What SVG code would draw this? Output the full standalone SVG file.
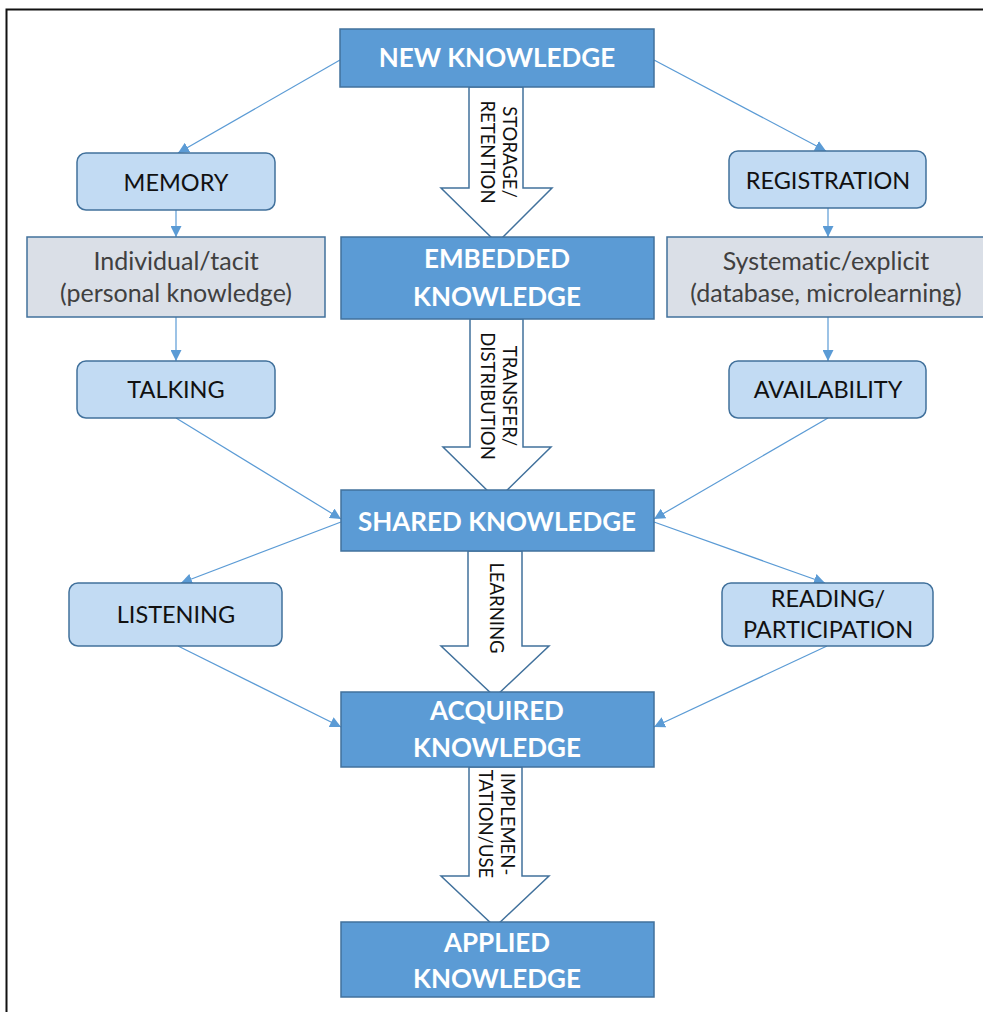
<svg xmlns="http://www.w3.org/2000/svg" width="983" height="1012" viewBox="0 0 983 1012">
  <style>
    text { font-variant-ligatures: none; }
    .main { fill: #5B9BD5; stroke: #41719C; stroke-width: 1.5; }
    .main-t { font-family: Lato, "Open Sans", sans-serif; font-weight: bold; font-size: 26px; fill: #ffffff; text-anchor: middle; }
    .soft { fill: #C2DBF3; stroke: #41719C; stroke-width: 1.5; }
    .soft-t { font-family: Lato, "Open Sans", sans-serif; font-size: 23.5px; fill: #111111; text-anchor: middle; }
    .grey { fill: #DADFE7; stroke: #41719C; stroke-width: 1.5; }
    .grey-t { font-family: Lato, "Open Sans", sans-serif; font-size: 25px; fill: #404040; text-anchor: middle; }
    .block { fill: #ffffff; stroke: #41719C; stroke-width: 1.5; stroke-linejoin: miter; }
    .block-t { font-family: Lato, "Open Sans", sans-serif; font-size: 18.5px; fill: #111111; text-anchor: middle; }
    .link { stroke: #5B9BD5; stroke-width: 1.2; fill: none; marker-end: url(#tip); }
    .frame { stroke: #111111; stroke-width: 2; fill: none; }
  </style>
  <defs>
    <marker id="tip" viewBox="0 0 10 10" refX="10" refY="5" markerWidth="11" markerHeight="11" markerUnits="userSpaceOnUse" orient="auto">
      <path d="M0,0 L10,5 L0,10 z" fill="#5B9BD5"/>
    </marker>
  </defs>

  <rect width="983" height="1012" fill="#ffffff"/>
  <path class="frame" d="M6.5,1012 V9.5 H983"/>

  <!-- thin connectors -->
  <g id="connectors">
    <line class="link" x1="340" y1="60" x2="178" y2="153"/>
    <line class="link" x1="654" y1="60" x2="826" y2="151"/>
    <line class="link" x1="176" y1="210" x2="176" y2="237"/>
    <line class="link" x1="176" y1="317" x2="176" y2="361"/>
    <line class="link" x1="828" y1="208" x2="828" y2="237"/>
    <line class="link" x1="828" y1="317" x2="828" y2="361"/>
    <line class="link" x1="176" y1="418" x2="341" y2="519"/>
    <line class="link" x1="828" y1="418" x2="654" y2="519"/>
    <line class="link" x1="341" y1="522" x2="181" y2="583"/>
    <line class="link" x1="654" y1="522" x2="825" y2="583"/>
    <line class="link" x1="178" y1="646" x2="341" y2="727"/>
    <line class="link" x1="827" y1="646" x2="654" y2="727"/>
  </g>

  <!-- block arrows between the central stages -->
  <g id="flow-arrows">
    <g id="arrow-storage">
      <path class="block" d="M469,87 H523 V188 H552 L497,243 L441,188 H469 Z"/>
      <text class="block-t" transform="translate(497,152) rotate(90)"><tspan x="0" y="-6">STORAGE/</tspan><tspan x="0" y="16">RETENTION</tspan></text>
    </g>
    <g id="arrow-transfer">
      <path class="block" d="M470,319 H523 V447 H551 L497,500 L443,447 H470 Z"/>
      <text class="block-t" transform="translate(497,396) rotate(90)"><tspan x="0" y="-6">TRANSFER/</tspan><tspan x="0" y="16">DISTRIBUTION</tspan></text>
    </g>
    <g id="arrow-learning">
      <path class="block" d="M468,551 H522 V646 H549 L495,697 L441,646 H468 Z"/>
      <text class="block-t" transform="translate(495,608) rotate(90)"><tspan x="0" y="5">LEARNING</tspan></text>
    </g>
    <g id="arrow-implementation">
      <path class="block" d="M469,767 H522 V876 H549 L495,927 L441,876 H469 Z"/>
      <text class="block-t" transform="translate(495,824) rotate(90)"><tspan x="0" y="-6">IMPLEMEN-</tspan><tspan x="0" y="16">TATION/USE</tspan></text>
    </g>
  </g>

  <!-- central stages -->
  <g id="new-knowledge">
    <rect class="main" x="340" y="29" width="314" height="58"/>
    <text class="main-t" x="497" y="67">NEW KNOWLEDGE</text>
  </g>
  <g id="embedded-knowledge">
    <rect class="main" x="341" y="237" width="313" height="82"/>
    <text class="main-t" x="497" y="268">EMBEDDED</text>
    <text class="main-t" x="497" y="306">KNOWLEDGE</text>
  </g>
  <g id="shared-knowledge">
    <rect class="main" x="341" y="490" width="313" height="61"/>
    <text class="main-t" x="497" y="531">SHARED KNOWLEDGE</text>
  </g>
  <g id="acquired-knowledge">
    <rect class="main" x="341" y="692" width="313" height="75"/>
    <text class="main-t" x="497" y="720">ACQUIRED</text>
    <text class="main-t" x="497" y="757">KNOWLEDGE</text>
  </g>
  <g id="applied-knowledge">
    <rect class="main" x="341" y="922" width="313" height="75"/>
    <text class="main-t" x="497" y="952">APPLIED</text>
    <text class="main-t" x="497" y="988">KNOWLEDGE</text>
  </g>

  <!-- left branch -->
  <g id="memory">
    <rect class="soft" x="77" y="153" width="198" height="57" rx="9"/>
    <text class="soft-t" x="176" y="191">MEMORY</text>
  </g>
  <g id="individual-tacit">
    <rect class="grey" x="27" y="237" width="298" height="80"/>
    <text class="grey-t" x="176" y="270">Individual/tacit</text>
    <text class="grey-t" x="176" y="302">(personal knowledge)</text>
  </g>
  <g id="talking">
    <rect class="soft" x="77" y="361" width="198" height="57" rx="9"/>
    <text class="soft-t" x="176" y="398">TALKING</text>
  </g>
  <g id="listening">
    <rect class="soft" x="69" y="583" width="213" height="63" rx="9"/>
    <text class="soft-t" x="176" y="623">LISTENING</text>
  </g>

  <!-- right branch -->
  <g id="registration">
    <rect class="soft" x="729" y="151" width="197" height="57" rx="9"/>
    <text class="soft-t" x="828" y="189">REGISTRATION</text>
  </g>
  <g id="systematic-explicit">
    <rect class="grey" x="667" y="237" width="322" height="80"/>
    <text class="grey-t" x="826" y="270">Systematic/explicit</text>
    <text class="grey-t" x="826" y="302">(database, microlearning)</text>
  </g>
  <g id="availability">
    <rect class="soft" x="729" y="361" width="197" height="57" rx="9"/>
    <text class="soft-t" x="828" y="398">AVAILABILITY</text>
  </g>
  <g id="reading-participation">
    <rect class="soft" x="722" y="583" width="211" height="63" rx="9"/>
    <text class="soft-t" x="828" y="607">READING/</text>
    <text class="soft-t" x="828" y="638">PARTICIPATION</text>
  </g>
</svg>
